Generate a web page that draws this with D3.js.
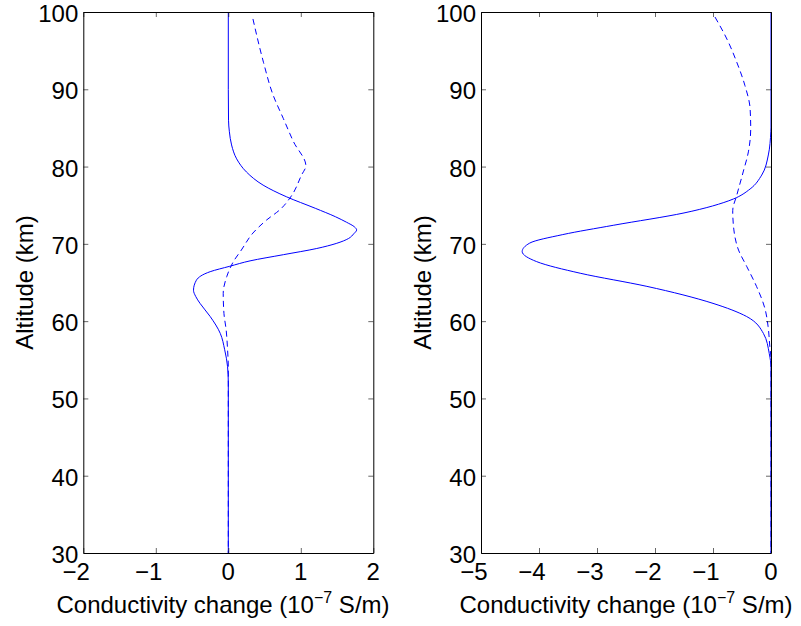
<!DOCTYPE html>
<html>
<head>
<meta charset="utf-8">
<script src="https://cdn.jsdelivr.net/npm/d3@7"></script>
<style>
  body { margin: 0; background: #fff; }
  svg { display: block; font-family: "Liberation Sans", Arial, sans-serif; }
  .tick line { stroke: #000; stroke-width: 0.6; }
  .domain { stroke: #000; stroke-width: 1; }
</style>
</head>
<body>
<svg id="chart" width="801" height="626"></svg>
<script>
// altitude (km) / conductivity change (1e-7 S/m)
const leftSolidAlt = [100, 90, 86, 84.5, 82.8, 81, 79.3, 77.6, 76.1, 74.6, 73.5, 72.8, 72.2, 71.8, 71.3, 70.7, 69.4, 68.6, 67.8, 67.1, 66.4, 65.3, 64, 63.2, 62.3, 60.6, 58.4, 56.3, 54.1, 52, 30];
const leftSolidVal = [0, 0, 0.003, 0.015, 0.045, 0.115, 0.25, 0.48, 0.8, 1.2, 1.48, 1.63, 1.74, 1.77, 1.73, 1.66, 1.22, 0.76, 0.3, 0.02, -0.25, -0.44, -0.48, -0.45, -0.39, -0.25, -0.11, -0.05, -0.01, 0, 0];

const leftDashAlt = [99.1, 93.5, 89.2, 86.2, 83.2, 80.1, 78.9, 76.2, 74.4, 73.1, 71.4, 69.2, 67.7, 65.8, 63.6, 61, 58.9, 56.3, 54, 30];
const leftDashVal = [0.34, 0.485, 0.62, 0.76, 0.9, 1.07, 1.01, 0.87, 0.71, 0.53, 0.34, 0.18, 0.07, -0.02, -0.07, -0.06, -0.03, -0.01, 0, 0];

const rightSolidAlt = [100, 85, 84.5, 81.5, 78.9, 77.1, 75.8, 74, 72.4, 71.2, 70.1, 69, 67.7, 66.2, 64.5, 62.3, 60.6, 58.4, 55.8, 54, 30];
const rightSolidVal = [0, 0, -0.003, -0.046, -0.16, -0.36, -0.65, -1.5, -2.72, -3.59, -4.16, -4.29, -4.04, -3.29, -2.14, -1.0, -0.42, -0.13, -0.03, 0, 0];

const rightDashAlt = [99.35, 96.5, 93.5, 90.5, 87.5, 84.9, 81.9, 79.3, 76.3, 74.3, 71.8, 69.2, 67.1, 64.5, 61.5, 59.3, 56.7, 55, 30];
const rightDashVal = [-0.966, -0.76, -0.59, -0.45, -0.36, -0.35, -0.39, -0.48, -0.59, -0.66, -0.64, -0.56, -0.42, -0.25, -0.1, -0.05, -0.02, 0, 0];

const leftXTicks = [-2, -1, 0, 1, 2];
const rightXTicks = [-5, -4, -3, -2, -1, 0];
const altTicks = [30, 40, 50, 60, 70, 80, 90, 100];

const svg = d3.select('#chart');
const plotTop = 12, plotBottom = 553;
const fontSize = 24;

const yScale = d3.scaleLinear().domain([30, 100]).range([plotBottom, plotTop]);

const panels = [
    { left: 83.3, right: 373.3, domain: [-2, 2], ticks: leftXTicks, labelX: 223,
      series: [[leftSolidAlt, leftSolidVal, null], [leftDashAlt, leftDashVal, '6,4']] },
    { left: 481, right: 771, domain: [-5, 0], ticks: rightXTicks, labelX: 626,
      series: [[rightSolidAlt, rightSolidVal, null], [rightDashAlt, rightDashVal, '6,4']] },
];

const fmt = (d) => (d < 0 ? '\u2212' : '') + Math.abs(d);

panels.forEach((p) => {
    const xScale = d3.scaleLinear().domain(p.domain).range([p.left, p.right]);
    const g = svg.append('g');

    // curves
    p.series.forEach(([alts, vals, dash]) => {
        const pts = alts.map((a, i) => [vals[i], a]);
        const line = d3.line()
            .x((d) => xScale(d[0]))
            .y((d) => yScale(d[1]))
            .curve(d3.curveMonotoneY);
        g.append('path')
            .attr('d', line(pts))
            .attr('fill', 'none')
            .attr('stroke', '#0000ff')
            .attr('stroke-width', 1)
            .attr('stroke-dasharray', dash);
    });

    // box with inward ticks (MATLAB style)
    const mk = (axis, transform) => g.append('g')
        .attr('transform', transform)
        .call(axis.tickSizeInner(-5).tickSizeOuter(0).tickFormat(''));
    mk(d3.axisBottom(xScale).tickValues(p.ticks), `translate(0,${plotBottom})`);
    mk(d3.axisTop(xScale).tickValues(p.ticks), `translate(0,${plotTop})`);
    mk(d3.axisLeft(yScale).tickValues(altTicks), `translate(${p.left},0)`);
    mk(d3.axisRight(yScale).tickValues(altTicks), `translate(${p.right},0)`);

    // x tick labels: digit centred on tick, minus hangs left
    g.append('g').selectAll('text')
        .data(p.ticks)
        .join('text')
        .attr('x', (d) => xScale(d) + fontSize * 0.278)
        .attr('y', 580)
        .attr('text-anchor', 'end')
        .attr('font-size', fontSize)
        .text(fmt);

    // y tick labels
    g.append('g').selectAll('text')
        .data(altTicks)
        .join('text')
        .attr('x', p.left - 5)
        .attr('y', (d) => yScale(d) + 10)
        .attr('text-anchor', 'end')
        .attr('font-size', fontSize)
        .text((d) => d);

    // axis labels
    const xl = g.append('text')
        .attr('x', p.labelX)
        .attr('y', 613)
        .attr('text-anchor', 'middle')
        .attr('font-size', fontSize);
    xl.append('tspan').text('Conductivity change (10');
    xl.append('tspan').attr('font-size', 16).attr('dy', -10).text('\u22127');
    xl.append('tspan').attr('dy', 10).text(' S/m)');

    g.append('text')
        .attr('transform', `translate(${p.left - 50},${(plotTop + plotBottom) / 2}) rotate(-90)`)
        .attr('text-anchor', 'middle')
        .attr('font-size', fontSize)
        .text('Altitude (km)');
});
</script>
</body>
</html>
